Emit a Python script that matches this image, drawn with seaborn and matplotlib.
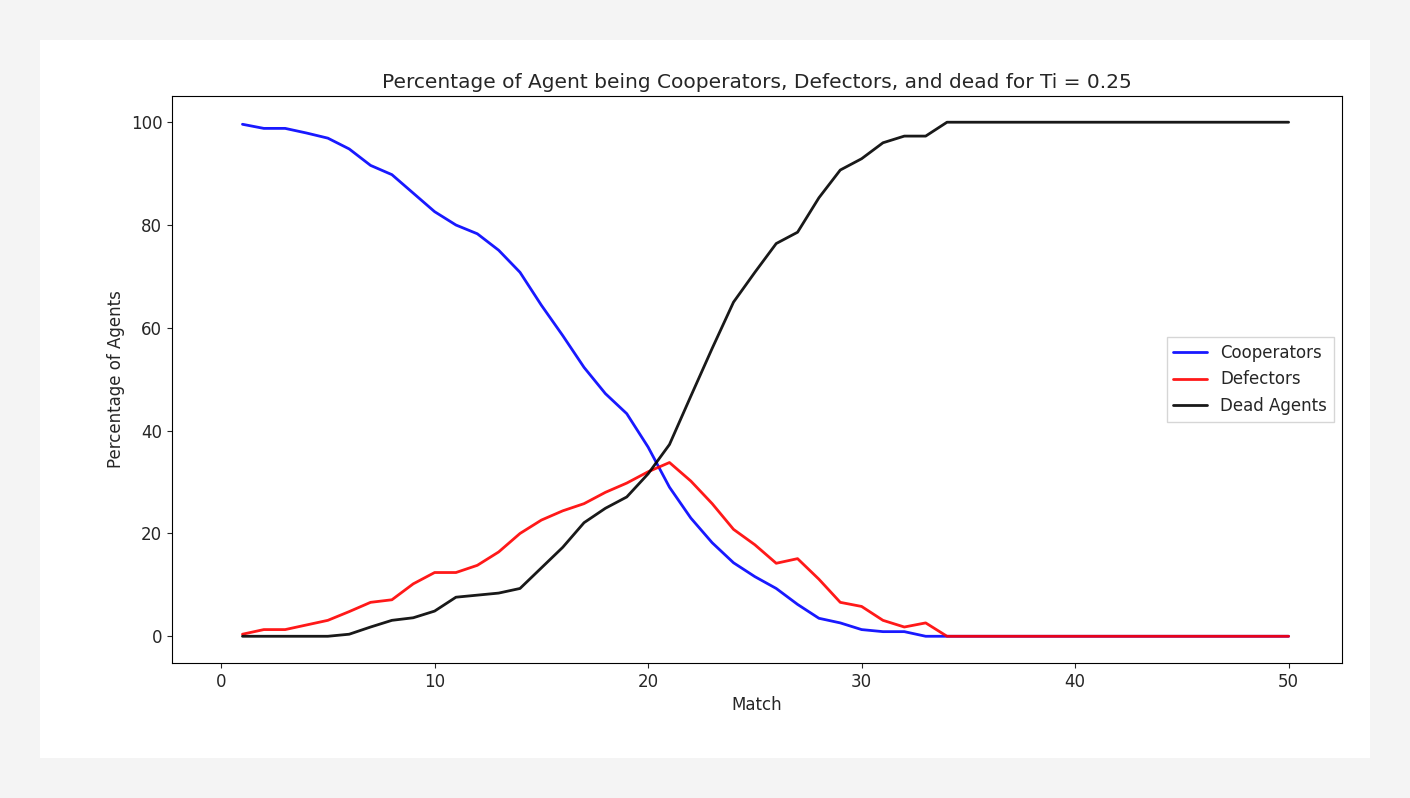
import numpy as np
import pandas as pd
import matplotlib
matplotlib.use("Agg")
import matplotlib.pyplot as plt
import seaborn as sns
from matplotlib.patches import Rectangle

match = list(range(1, 51))
cooperators = [99.6, 98.8, 98.8, 97.9, 96.9, 94.8, 91.6, 89.8, 86.2, 82.6,
               80.0, 78.3, 75.1, 70.8, 64.4, 58.5, 52.3, 47.2, 43.3, 36.8,
               29.0, 23.0, 18.2, 14.3, 11.6, 9.3, 6.2, 3.5, 2.6, 1.3,
               0.9, 0.9, 0, 0] + [0] * 16
defectors = [0.4, 1.3, 1.3, 2.2, 3.1, 4.8, 6.6, 7.1, 10.2, 12.4,
             12.4, 13.8, 16.4, 20.0, 22.6, 24.4, 25.8, 28.0, 29.8, 32.0,
             33.8, 30.2, 25.8, 20.8, 17.8, 14.2, 15.1, 11.1, 6.6, 5.8,
             3.1, 1.8, 2.6, 0] + [0] * 16
dead = [0, 0, 0, 0, 0, 0.4, 1.8, 3.1, 3.6, 4.9,
        7.6, 8.0, 8.4, 9.3, 13.3, 17.3, 22.1, 24.9, 27.1, 31.6,
        37.3, 46.7, 56.0, 65.0, 70.8, 76.4, 78.6, 85.3, 90.7, 92.9,
        96.0, 97.3, 97.3, 100] + [100] * 16

sns.set_style("ticks")
fig = plt.figure(figsize=(14.1, 7.98), dpi=100, facecolor="#f4f4f4")
fig.patches.append(Rectangle((40 / 1410, 1 - 758 / 798), 1330 / 1410, 718 / 798,
                             transform=fig.transFigure, facecolor="white",
                             edgecolor="none", zorder=-1))
ax = fig.add_axes([172 / 1410, 1 - 663 / 798, 1170 / 1410, 567 / 798])
ax.set_zorder(1)

sns.lineplot(x=match, y=cooperators, color="blue", label="Cooperators", ax=ax, lw=2, alpha=0.9)
sns.lineplot(x=match, y=defectors, color="red", label="Defectors", ax=ax, lw=2, alpha=0.9)
sns.lineplot(x=match, y=dead, color="black", label="Dead Agents", ax=ax, lw=2, alpha=0.9)

ax.set_xlim(-2.3, 52.5)
ax.set_ylim(-5.2, 105.1)
ax.set_xticks([0, 10, 20, 30, 40, 50])
ax.set_yticks([0, 20, 40, 60, 80, 100])
ax.tick_params(labelsize=12)
for s in ax.spines.values():
    s.set_visible(True)
    s.set_color("black")
ax.set_xlabel("Match", fontsize=12)
ax.set_ylabel("Percentage of Agents", fontsize=12)
ax.set_title("Percentage of Agent being Cooperators, Defectors, and dead for Ti = 0.25", fontsize=14.5)
ax.legend(loc="center right", fontsize=12, frameon=True, fancybox=False, edgecolor="#cccccc")

fig.savefig("out.png", dpi=100, facecolor=fig.get_facecolor())
